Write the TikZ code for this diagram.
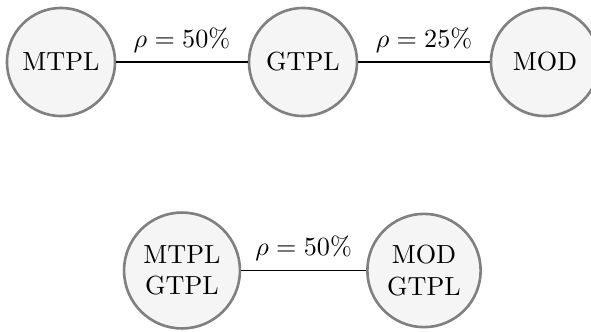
\documentclass[tikz,border=0pt]{standalone}
\begin{document}
\begin{tikzpicture}[x=0.3817pt,y=-0.3817pt,
  riskbox/.style={circle,draw=black!50,fill=gray!8,line width=1pt,minimum size=1.45cm,align=center,inner sep=0.3333em},
  link/.style={draw=black,semithick}]
\useasboundingbox (0,0) rectangle (591,331);
\begin{scope}
\clip (0,0) rectangle (591,331);
\node[riskbox] (mtpl) at (61,62) {MTPL};
\node[riskbox] (gtpl) at (303,62) {GTPL};
\node[riskbox] (mod) at (545,62) {MOD};
\node[riskbox] (mg) at (182,270.5) {MTPL\\GTPL};
\node[riskbox] (og) at (424,270.5) {MOD\\GTPL};
\draw[link] (mtpl) -- node[above] {$\rho=50\%$} (gtpl);
\draw[link] (gtpl) -- node[above] {$\rho=25\%$} (mod);
\draw[link] (mg) -- node[above] {$\rho=50\%$} (og);
\end{scope}
\end{tikzpicture}
\end{document}
